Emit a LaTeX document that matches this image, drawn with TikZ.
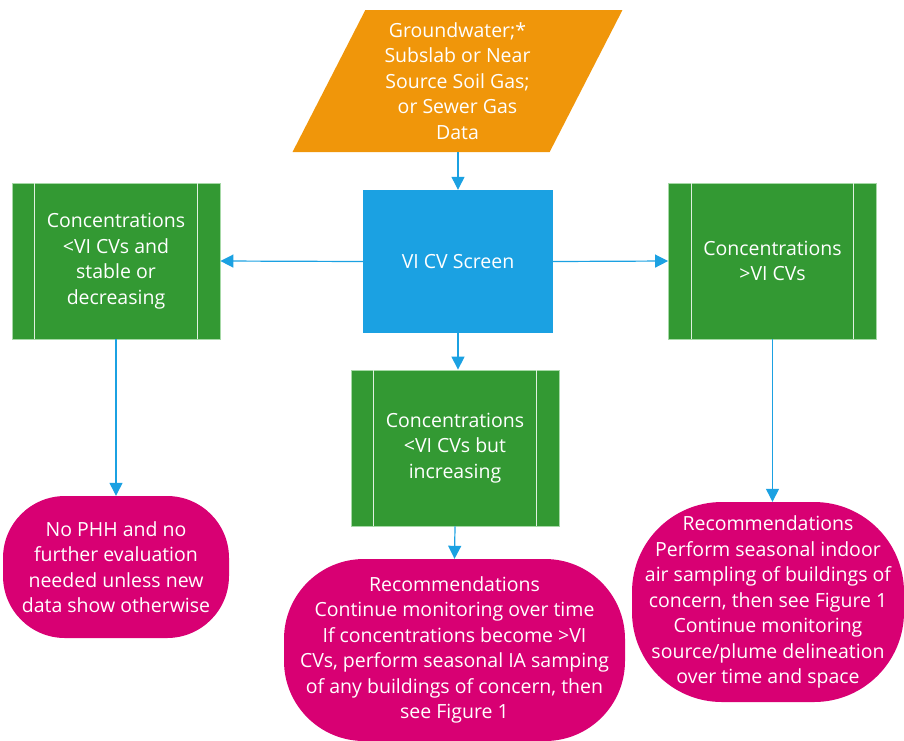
\documentclass[tikz,border=0pt]{standalone}
\usepackage{fontspec}
\setmainfont{Open Sans}
\usepackage{tikz}
\usetikzlibrary{arrows.meta, positioning, calc, shapes.geometric}
\definecolor{vorange}{HTML}{F0960A}
\definecolor{vblue}{HTML}{1BA1E2}
\definecolor{vgreen}{HTML}{339933}
\definecolor{vpink}{HTML}{D80073}
\definecolor{vedge}{HTML}{A6D9A6}
\newcommand{\procbars}[1]{%
  \draw[white!85!vgreen, line width=1pt] ($(#1.north west)+(23,0)$) -- ($(#1.south west)+(23,0)$);
  \draw[white!85!vgreen, line width=1pt] ($(#1.north east)+(-23,0)$) -- ($(#1.south east)+(-23,0)$);}

\begin{document}
\begin{tikzpicture}[x=1pt, y=-1pt,
    flowtext/.style={text=white, align=center, inner sep=0pt,
      font=\fontsize{19.5}{25.5}\selectfont},
    databox/.style={flowtext, trapezium, trapezium left angle=63.76,
      trapezium right angle=116.24, trapezium stretches=true, fill=vorange,
      minimum width=331pt, minimum height=142pt},
    screenbox/.style={flowtext, rectangle, fill=vblue,
      minimum width=190pt, minimum height=143pt},
    procbox/.style={flowtext, rectangle, fill=vgreen, draw=vedge, line width=0.8pt,
      minimum width=208pt, minimum height=156pt},
    endbox/.style={flowtext, rectangle, fill=vpink},
    flowarrow/.style={draw=vblue, line width=1.2pt, -{Triangle[length=13pt,width=13pt]}}]
    \useasboundingbox (0,0) rectangle (904,740);
    % Input data and screen
    \node[databox] (data) at (457.5,81) {Groundwater;*\\Subslab or Near\\Source Soil Gas;\\or Sewer Gas\\Data};
    \node[screenbox] (screen) at (458,261.5) {VI CV Screen};
    % Screening outcomes
    \node[procbox] (stable) at (116,261) {Concentrations\\<VI CVs and\\stable or\\decreasing};
    \node[procbox] (above) at (772.5,261) {Concentrations\\>VI CVs};
    \node[procbox] (rising) at (455,448) {Concentrations\\<VI CVs but\\increasing};
    \procbars{stable}
    \procbars{above}
    \procbars{rising}
    % Recommendations
    \node[endbox, minimum width=226pt, minimum height=142pt, rounded corners=62pt] (nophh) at (116,567)
      {No PHH and no\\further evaluation\\needed unless new\\data show otherwise};
    \node[endbox, minimum width=341pt, minimum height=182pt, rounded corners=80pt] (recmid) at (454.5,650)
      {Recommendations\\Continue monitoring over time\\If concentrations become >VI\\CVs, perform seasonal IA samping\\of any buildings of concern, then\\see Figure 1};
    \node[endbox, minimum width=272pt, minimum height=200pt, rounded corners=90pt] (recright) at (768,602)
      {Recommendations\\Perform seasonal indoor\\air sampling of buildings of\\concern, then see Figure 1\\Continue monitoring\\source/plume delineation\\over time and space};
    % Connectors
    \draw[flowarrow] (screen.north |- data.south) -- (screen.north);
    \draw[flowarrow] (screen.west) -- (stable.east);
    \draw[flowarrow] (screen.east) -- (above.west);
    \draw[flowarrow] (screen.south) -- (screen.south |- rising.north);
    \draw[flowarrow] (stable.south) -- (nophh.north);
    \draw[flowarrow] (rising.south) -- (recmid.north);
    \draw[flowarrow] (above.south) -- (above.south |- recright.north);
\end{tikzpicture}
\end{document}
